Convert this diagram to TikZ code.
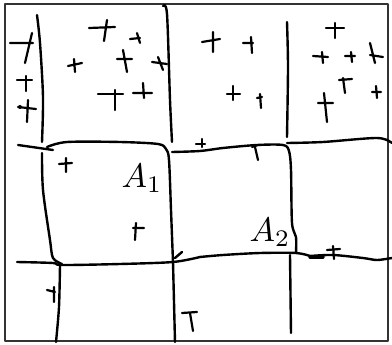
\documentclass[tikz,border=0pt]{standalone}
\usepackage{graphicx}
\usetikzlibrary{arrows}

\begin{document}
\begin{tikzpicture}[x=1pt,y=-1pt,line cap=round,line join=round,
                    pen/.style={line width=2.4pt},
                    tick/.style={line width=2.2pt}]

  \useasboundingbox (0,0) rectangle (392,345);
  \draw[line width=2.2pt,black!80] (5,4) rectangle (388,341);

  % vertical strokes, top row
  \draw[pen] plot[smooth] coordinates {(37,15) (40,43) (43,97) (42,142)};
  \draw[pen] plot[smooth] coordinates {(163,6) (167,14) (170,100) (172,142)};
  \draw[pen] plot[smooth] coordinates {(287,22) (288,67) (287,137)};

  % the A1 box
  \draw[pen] (18,145) -- (53,150);
  \draw[pen] plot[smooth] coordinates {(47,147) (67,142) (120,142) (158,144) (166,149) (169,160) (171,210) (173,262)};
  \draw[pen] plot[smooth] coordinates {(42,153) (43,190) (50,240) (53,258) (62,264)};
  \draw[pen] plot[smooth] coordinates {(17,262) (53,263) (62,265) (120,264) (173,262) (200,257)};
  \draw[pen] (175,258) -- (182,252);

  % the A2 box
  \draw[pen] plot[smooth] coordinates {(172,152) (200,151) (223,148) (257,145) (283,145) (289,151) (291,170) (292,223) (296,237) (296,253)};
  \draw[pen] plot[smooth] coordinates {(287,143) (323,142) (377,138) (392,143)};
  \draw[pen] plot[smooth] coordinates {(200,257) (223,255) (260,253) (296,253) (310,256)};
  \draw[pen] plot[smooth] coordinates {(310,256) (333,255) (363,258) (377,260) (392,258)};
  \draw[line width=3.4pt] (310,257) -- (323,257);

  % vertical strokes, bottom row
  \draw[pen] plot[smooth] coordinates {(60,265) (59,307) (56,342)};
  \draw[pen] (173,262) -- (175,342);
  \draw[pen] (290,255) -- (291,333);

  % crosses
  \foreach \ha/\hb/\va/\vb in {
      {(10,43)}/{(33,43)}/{(32,33)}/{(25,63)},
      {(17,80)}/{(32,80)}/{(26,76)}/{(26,91)},
      {(18,107)}/{(36,109)}/{(28,100)}/{(27,122)},
      {(89,28)}/{(115,27)}/{(107,20)}/{(104,41)},
      {(130,39)}/{(140,38)}/{(137,33)}/{(140,43)},
      {(117,59)}/{(132,59)}/{(123,50)}/{(127,72)},
      {(152,62)}/{(167,64)}/{(158,57)}/{(163,70)},
      {(68,66)}/{(82,63)}/{(74,59)}/{(75,72)},
      {(98,94)}/{(123,94)}/{(115,90)}/{(115,110)},
      {(133,93)}/{(152,93)}/{(143,83)}/{(144,98)},
      {(202,42)}/{(220,39)}/{(213,32)}/{(213,52)},
      {(243,43)}/{(253,43)}/{(251,37)}/{(252,53)},
      {(227,94)}/{(240,94)}/{(233,86)}/{(233,100)},
      {(257,98)}/{(262,97)}/{(260,94)}/{(261,108)},
      {(326,28)}/{(344,28)}/{(335,23)}/{(335,38)},
      {(313,56)}/{(328,57)}/{(322,52)}/{(323,63)},
      {(345,56)}/{(355,56)}/{(351,52)}/{(352,62)},
      {(370,55)}/{(383,57)}/{(370,43)}/{(375,63)},
      {(339,80)}/{(352,79)}/{(343,78)}/{(345,93)},
      {(372,92)}/{(381,92)}/{(376,86)}/{(377,98)},
      {(318,103)}/{(333,103)}/{(324,93)}/{(327,122)},
      {(196,144)}/{(205,144)}/{(202,139)}/{(202,147)},
      {(252,147)}/{(258,145)}/{(255,147)}/{(258,160)},
      {(59,164)}/{(72,163)}/{(66,158)}/{(66,172)},
      {(133,228)}/{(144,228)}/{(136,223)}/{(135,240)},
      {(47,290)}/{(55,292)}/{(54,287)}/{(54,302)},
      {(182,313)}/{(197,312)}/{(190,313)}/{(193,331)},
      {(327,250)}/{(340,249)}/{(333,246)}/{(334,259)}}
    \draw[tick] \ha -- \hb \va -- \vb;
  \fill (20,107) circle (2pt);

  % area labels
  \node (a1) at (142,178) {\scalebox{3.4}{$A_1$}};
  \node (a2) at (270,232) {\scalebox{3.4}{$A_2$}};
\end{tikzpicture}
\end{document}
